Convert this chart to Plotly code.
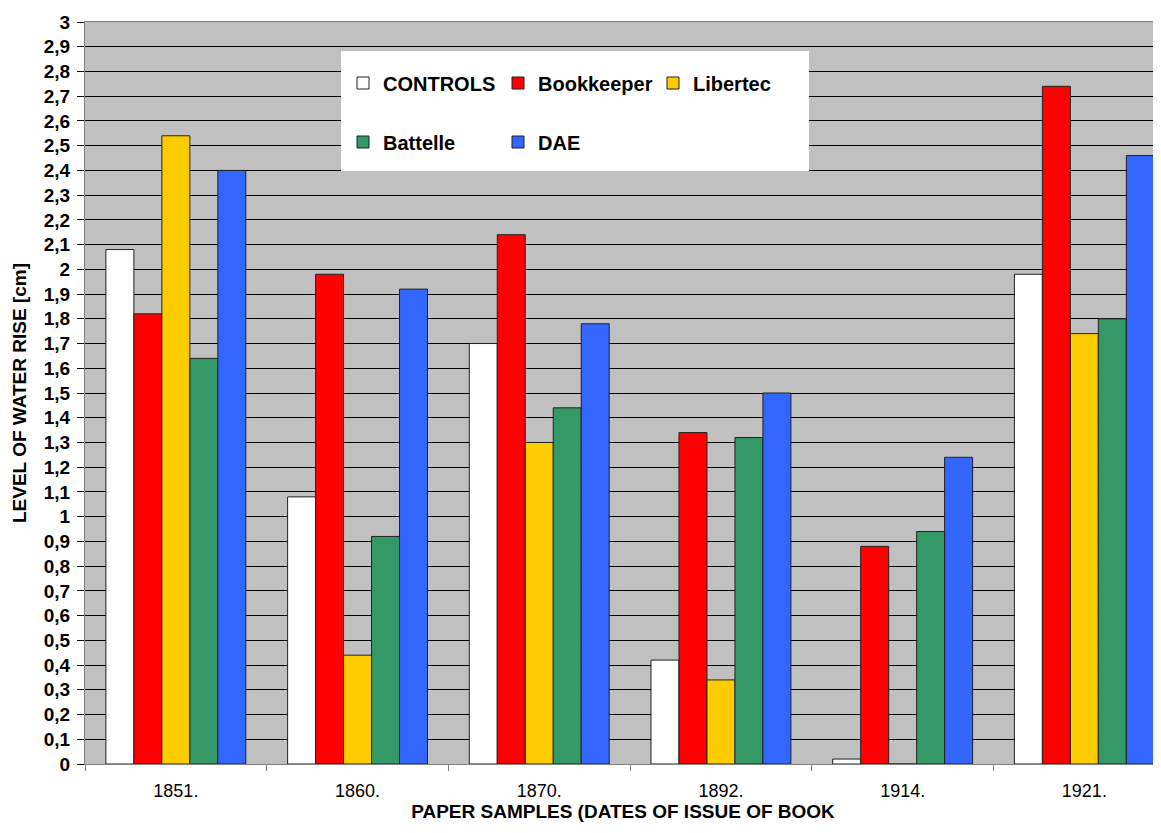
import plotly.graph_objects as go

categories = ["1851.", "1860.", "1870.", "1892.", "1914.", "1921."]
controls = [2.08, 1.08, 1.70, 0.42, 0.02, 1.98]
bookkeeper = [1.82, 1.98, 2.14, 1.34, 0.88, 2.74]
libertec = [2.54, 0.44, 1.30, 0.34, 0.0, 1.74]
battelle = [1.64, 0.92, 1.44, 1.32, 0.94, 1.80]
dae = [2.40, 1.92, 1.78, 1.50, 1.24, 2.46]

series_names = ["CONTROLS", "Bookkeeper", "Libertec", "Battelle", "DAE"]
series_values = [controls, bookkeeper, libertec, battelle, dae]
series_colors = ["#ffffff", "#ff0000", "#ffcc00", "#339966", "#3366ff"]
series_legend = ["legend", "legend", "legend", "legend2", "legend2"]

y_tickvals = [i / 10 for i in range(0, 31)]
y_ticktext = [("%g" % v).replace(".", ",") for v in y_tickvals]

FONT = "Liberation Sans, Arial, sans-serif"

fig = go.Figure()
for name, vals, col, lg in zip(series_names, series_values, series_colors, series_legend):
    fig.add_trace(go.Bar(
        x=categories, y=vals, name=name,
        marker=dict(color=col, line=dict(color="#222222", width=1)),
        legend=lg,
    ))

# The page body has an 8px default margin, so the figure is drawn 8px right/down.
BODY = 8
SCREEN_W, SCREEN_H = 1161, 833
PLOT_L, PLOT_T, PLOT_B, PLOT_R = 85, 22, 764, 1161   # plot area in screen pixels
W, H = SCREEN_W - BODY, SCREEN_H - BODY
ml, mt = PLOT_L - BODY, PLOT_T - BODY
mr = (SCREEN_W - PLOT_R)
mb = SCREEN_H - PLOT_B
pw, ph = PLOT_R - PLOT_L, PLOT_B - PLOT_T
cat_w = 181.7  # pixel width of one category (plot runs past the right edge)

def px_x(x):
    return (x - PLOT_L) / pw

def px_y(y):
    return (PLOT_B - y) / ph

legend_common = dict(
    orientation="h", xanchor="left", yanchor="middle",
    bgcolor="rgba(0,0,0,0)", borderwidth=0,
    font=dict(family=FONT, size=20, color="black", weight="bold"),
    entrywidth=110, entrywidthmode="pixels", itemwidth=30,
    traceorder="normal",
)

fig.update_layout(
    width=W, height=H,
    margin=dict(l=ml, r=mr, t=mt, b=mb, autoexpand=False),
    paper_bgcolor="white", plot_bgcolor="#c0c0c0",
    barmode="group", bargap=0.23, bargroupgap=0,
    font=dict(family=FONT, color="black"),
    showlegend=True,
    legend=dict(x=px_x(343), y=px_y(83), **legend_common),
    legend2=dict(x=px_x(343), y=px_y(142), **legend_common),
    shapes=[dict(
        type="rect", xref="paper", yref="paper", layer="above",
        x0=px_x(341), x1=px_x(809), y0=px_y(171), y1=px_y(51),
        fillcolor="white", line=dict(width=0),
    )],
)

fig.update_xaxes(
    type="category", range=[-0.5, -0.5 + pw / cat_w], automargin=False,
    tickson="boundaries", ticks="outside", ticklen=6,
    tickcolor="#808080", tickfont=dict(family=FONT, size=18, color="black"),
    ticklabelstandoff=10,
    showline=True, linecolor="#808080", linewidth=1, mirror=True,
    showgrid=False,
    title=dict(text="PAPER SAMPLES (DATES OF ISSUE OF BOOK",
               font=dict(family=FONT, size=19, color="black", weight="bold"),
               standoff=3),
)
fig.update_yaxes(
    range=[0, 3], automargin=False, tickmode="array",
    tickvals=y_tickvals, ticktext=y_ticktext,
    ticks="outside", ticklen=7, tickcolor="black",
    tickfont=dict(family=FONT, size=19, color="black", weight="bold"),
    ticklabelstandoff=3,
    showgrid=True, gridcolor="black", gridwidth=1,
    showline=True, linecolor="#808080", linewidth=1, mirror=False,
    zeroline=False,
    title=dict(text="LEVEL OF WATER RISE [cm]",
               font=dict(family=FONT, size=19, color="black", weight="bold"),
               standoff=12),
)

fig.write_html("out.html")
